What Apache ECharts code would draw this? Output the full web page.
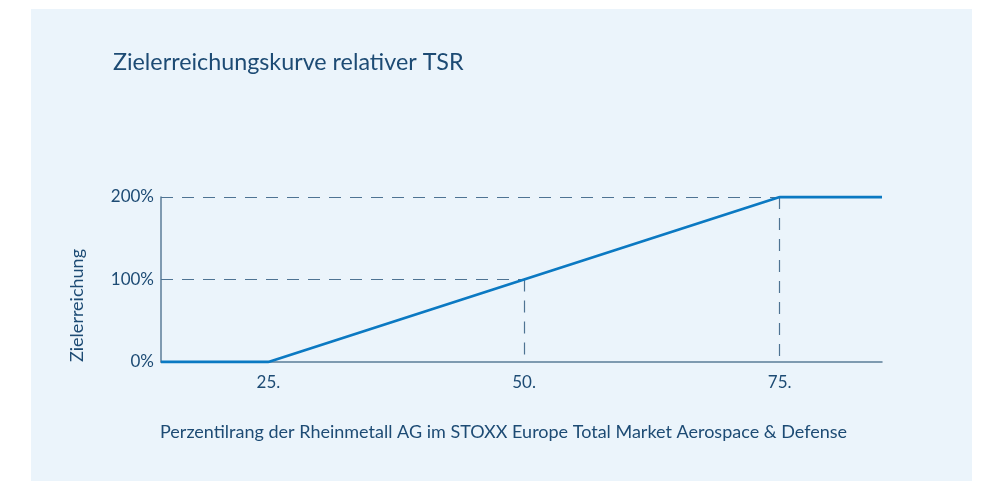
<!DOCTYPE html>
<html><head><meta charset="utf-8">
<script src="https://cdn.jsdelivr.net/npm/echarts@6/dist/echarts.min.js"></script>
<style>html,body{margin:0;padding:0;background:#fff}#c{width:981px;height:481px}</style>
</head><body><div id="c"></div>
<script>
var percentile = [14.5, 25, 50, 75, 85];
var attainment = [0, 0, 100, 200, 200];
var xTicks = [25, 50, 75];
var yTicks = [0, 100, 200];
var guides = [[50, 100], [75, 200]];
var titleText = 'Zielerreichungskurve relativer TSR';
var xName = 'Perzentilrang der Rheinmetall AG im STOXX Europe Total Market Aerospace & Defense';
var yName = 'Zielerreichung';

var FONT = 'Lato';
var TXT = '#1d4b74';
var DASH = '#4e7393';
var dashStyle = {color: DASH, width: 1.2, type: [12, 9]};
var mlData = [];
guides.forEach(function (g) {
  mlData.push([{coord: [percentile[0], g[1]]}, {coord: [g[0], g[1]]}]);
  mlData.push([{coord: [g[0], g[1]]}, {coord: [g[0], 0]}]);
});

var chart = echarts.init(document.getElementById('c'));
chart.setOption({
  backgroundColor: '#ffffff',
  animation: false,
  graphic: [
    {type: 'rect', shape: {x: 31, y: 9, width: 941, height: 472}, style: {fill: '#ebf4fb'}, z: -10},
    {type: 'text', x: 113, y: 62, style: {text: titleText, font: '23.3px ' + FONT, fill: TXT, textVerticalAlign: 'middle'}},
    {type: 'text', x: 160, y: 432, style: {text: xName, font: '18px ' + FONT, fill: TXT, textVerticalAlign: 'middle'}},
    {type: 'text', x: 77, y: 362, rotation: Math.PI / 2, style: {text: yName, font: '18px ' + FONT, fill: TXT, textVerticalAlign: 'middle', textAlign: 'left'}}
  ],
  grid: {left: 161, right: 99, top: 197, bottom: 119},
  xAxis: {
    type: 'value', min: percentile[0], max: percentile[percentile.length - 1],
    splitLine: {show: false},
    axisTick: {show: false},
    axisLine: {show: true, lineStyle: {color: '#5b7c98', width: 1.5}},
    axisLabel: {customValues: xTicks, formatter: function (v) { return v + '.'; }, color: TXT, fontFamily: FONT, fontSize: 17, margin: 12}
  },
  yAxis: {
    type: 'value', min: 0, max: 200, interval: 100,
    splitLine: {show: false},
    axisTick: {show: false},
    axisLine: {show: true, lineStyle: {color: '#5b7c98', width: 1.5}},
    axisLabel: {customValues: yTicks, formatter: function (v) { return v + '%'; }, color: TXT, fontFamily: FONT, fontSize: 17, margin: 7}
  },
  series: [{
    type: 'line',
    data: percentile.map(function (x, i) { return [x, attainment[i]]; }),
    symbol: 'none',
    lineStyle: {color: '#0b79c2', width: 2.8},
    z: 5,
    markLine: {silent: true, symbol: 'none', label: {show: false}, lineStyle: dashStyle, data: mlData, z: 2}
  }]
});
</script></body></html>
